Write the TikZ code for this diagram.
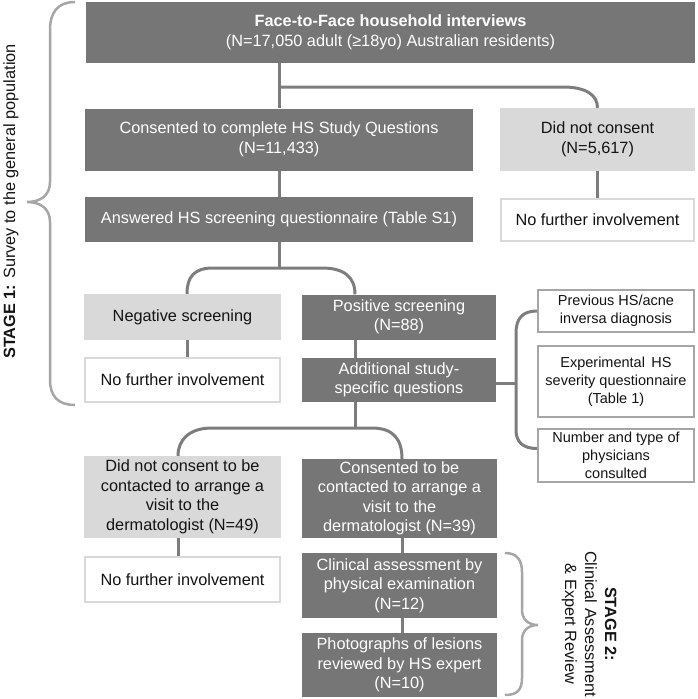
\documentclass[tikz,border=0pt]{standalone}
\usepackage{fontspec}
\setmainfont{Liberation Sans}
\definecolor{dk}{RGB}{118,118,118}
\definecolor{lt}{RGB}{217,217,217}
\definecolor{ln}{RGB}{125,125,125}
\definecolor{br}{RGB}{166,166,166}
\definecolor{tx}{RGB}{20,20,20}
\begin{document}
\begin{tikzpicture}[x=1pt,y=-1pt,
 base/.style={inner sep=2pt, align=center, font=\fontsize{16.3}{19.5}\selectfont},
 dkbox/.style={base, fill=dk, text=white},
 ltbox/.style={base, fill=lt, text=tx},
 wbox/.style={base, fill=white, draw=lt, line width=2.5pt, text=tx},
 rbox/.style={base, fill=white, draw=br, line width=2.2pt, text=tx, font=\fontsize{14.5}{18}\selectfont},
 conn/.style={draw=ln, line width=3pt},
 bracestyle/.style={draw=br, line width=2.5pt}]
\useasboundingbox (0,0) rectangle (697,699);

% boxes
\node[dkbox, minimum width=609pt, minimum height=61pt] (top) at (390.5,32.5)
  {\textbf{Face-to-Face household interviews}\\(N=17,050 adult (≥18yo) Australian residents)};
\node[dkbox, minimum width=388pt, minimum height=62pt] (cons) at (279,139.5)
  {Consented to complete HS Study Questions\\(N=11,433)};
\node[ltbox, minimum width=195pt, minimum height=63pt] (dnc) at (597.5,139.5)
  {Did not consent\\(N=5,617)};
\node[dkbox, minimum width=388pt, minimum height=45pt] (ans) at (279,219.5)
  {Answered HS screening questionnaire (Table S1)};
\node[wbox, minimum width=193pt, minimum height=42pt] (nfia) at (597.5,220)
  {No further involvement};
\node[ltbox, minimum width=197pt, minimum height=46pt] (neg) at (182.5,317)
  {Negative screening};
\node[dkbox, minimum width=194pt, minimum height=45pt] (pos) at (399,317)
  {Positive screening\\(N=88)};
\node[dkbox, minimum width=194pt, minimum height=44pt] (add) at (399,380)
  {Additional study-\\specific questions};
\node[wbox, minimum width=195pt, minimum height=44pt] (nfib) at (182.5,380)
  {No further involvement};
\node[rbox, minimum width=156pt, minimum height=42pt] (prev) at (616,311)
  {Previous HS/acne\\inversa diagnosis};
\node[rbox, minimum width=156pt, minimum height=71pt] (exp) at (616,381.5)
  {Experimental\, HS\\severity questionnaire\\(Table 1)};
\node[rbox, minimum width=156pt, minimum height=53pt] (num) at (616,455.5)
  {Number and type of\\physicians\\consulted};
\node[ltbox, minimum width=197pt, minimum height=82pt] (dncb) at (182.5,497)
  {Did not consent to be\\contacted to arrange a\\visit to the\\dermatologist (N=49)};
\node[dkbox, minimum width=195pt, minimum height=79pt] (conb) at (399.5,498.5)
  {Consented to be\\contacted to arrange a\\visit to the\\dermatologist (N=39)};
\node[wbox, minimum width=195pt, minimum height=45pt] (nfic) at (182.5,579.5)
  {No further involvement};
\node[dkbox, minimum width=195pt, minimum height=65pt] (clin) at (399.5,585.5)
  {Clinical assessment by\\physical examination\\(N=12)};
\node[dkbox, minimum width=195pt, minimum height=64pt] (photo) at (399.5,665)
  {Photographs of lesions\\reviewed by HS expert\\(N=10)};

% junctions
\coordinate (ja) at (279,87);
\coordinate (jb) at (279,268);
\coordinate (jc) at (355,428);
\coordinate (bv) at (516,383);

% connectors
\draw[conn] (top.south -| cons.north) -- (cons.north);
\draw[conn] (ja) -- (563,87) .. controls (586,87) and (597.5,95) .. (dnc.north);
\draw[conn] (cons.south) -- (ans.north);
\draw[conn] (dnc.south) -- (nfia.north);
\draw[conn] (ans.south) -- (jb);
\draw[conn] (jb) -- (213,268) .. controls (194,268) and (187,277) .. ([xshift=4.5pt]neg.north);
\draw[conn] (jb) -- (322,268) .. controls (344,268) and (355,277) .. (jc |- pos.north);
\draw[conn] ([xshift=4.5pt]neg.south) -- ([xshift=4.5pt]nfib.north);
\draw[conn] (jc |- pos.south) -- (jc |- add.north);
\draw[conn] (jc |- add.south) -- (jc);
\draw[conn] (jc) -- (212,428) .. controls (189,428) and (178,440) .. ([xshift=-4.5pt]dncb.north);
\draw[conn] (jc) -- (372,428) .. controls (394,428) and (402,440) .. ([xshift=2.5pt]conb.north);
\draw[conn] ([xshift=-4.5pt]dncb.south) -- ([xshift=-4.5pt]nfic.north);
\draw[conn] ([xshift=2.5pt]conb.south) -- ([xshift=2.5pt]clin.north);
\draw[conn] ([xshift=2.5pt]clin.south) -- ([xshift=2.5pt]photo.north);
\draw[conn] (add.east |- bv) -- (bv);
\draw[conn] (prev.west) .. controls (523,311) and (516,318) .. (516,333) -- (516,430)
  .. controls (516,442) and (523,448.5) .. ([yshift=7pt]num.west);

% stage braces
\draw[bracestyle] (75,2) .. controls (58,2) and (50,12) .. (50,30) -- (50,182)
  .. controls (50,195) and (41,202) .. (27,202) .. controls (41,202) and (50,209) .. (50,222)
  -- (50,380) .. controls (50,396) and (58,405) .. (75,405);
\draw[bracestyle] (505,553) .. controls (517,553) and (522,560) .. (522,572) -- (522,610)
  .. controls (522,619) and (528,625) .. (538,625) .. controls (528,625) and (522,631) .. (522,640)
  -- (522,678) .. controls (522,690) and (517,695) .. (505,695);

% stage labels
\node[rotate=90, anchor=base, inner sep=0pt, text=tx, font=\fontsize{16.3}{19.5}\selectfont] (s1) at (15,201.5)
  {\textbf{STAGE 1:} Survey to the general population};
\node[rotate=-90, align=center, inner sep=0pt, text=tx, font=\fontsize{16.3}{20}\selectfont] (s2) at (589,624)
  {\textbf{STAGE 2:}\\Clinical Assessment\\\& Expert Review};
\end{tikzpicture}
\end{document}
